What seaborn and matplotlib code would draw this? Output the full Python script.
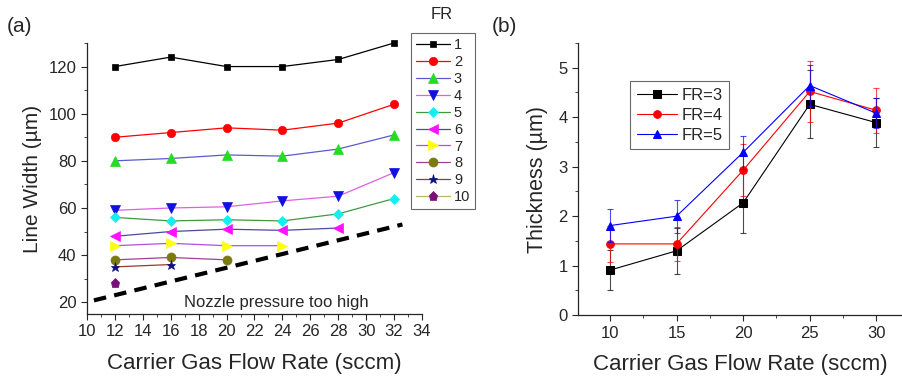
import numpy as np
import seaborn as sns
import matplotlib.pyplot as plt
from matplotlib.ticker import MultipleLocator

# Panel (a): line width vs carrier gas flow rate, one series per FR
flow_a = [12, 16, 20, 24, 28, 32]
fr_labels = ['1', '2', '3', '4', '5', '6', '7', '8', '9', '10']
width_fr1 = [120, 124, 120, 120, 123, 130]
width_fr2 = [90, 92, 94, 93, 96, 104]
width_fr3 = [80, 81, 82.5, 82, 85, 91]
width_fr4 = [59, 60, 60.5, 63, 65, 75]
width_fr5 = [56, 54.5, 55, 54.5, 57.5, 64]
width_fr6 = [48, 50, 51, 50.5, 51.5]
width_fr7 = [44, 45, 44, 44]
width_fr8 = [38, 39, 38]
width_fr9 = [35, 36]
width_fr10 = [28]
widths = [width_fr1, width_fr2, width_fr3, width_fr4, width_fr5,
          width_fr6, width_fr7, width_fr8, width_fr9, width_fr10]

# limit line ("nozzle pressure too high")
boundary_x = [10.5, 32.6]
boundary_y = [20.8, 53]

# Panel (b): thickness with error bars
flow_b = [10, 15, 20, 25, 30]
thick_fr3 = [0.91, 1.30, 2.27, 4.26, 3.89]
err_fr3 = [0.40, 0.46, 0.60, 0.69, 0.50]
thick_fr4 = [1.44, 1.44, 2.93, 4.52, 4.14]
err_fr4 = [0.36, 0.35, 0.53, 0.62, 0.45]
thick_fr5 = [1.81, 2.00, 3.29, 4.64, 4.08]
err_fr5 = [0.33, 0.33, 0.33, 0.42, 0.30]

sns.set_style('ticks')
plt.rcParams['font.family'] = ['Liberation Sans', 'DejaVu Sans']
plt.rcParams['xtick.labelsize'] = 12
plt.rcParams['ytick.labelsize'] = 12

fig = plt.figure(figsize=(9.03, 3.77), dpi=100)
ax1 = fig.add_axes([0.0963, 0.167, 0.371, 0.719])
ax2 = fig.add_axes([0.640, 0.164, 0.360, 0.722])

line_colors = ['black', 'red', '#5a5ad2', '#e060e0', '#3f9a3f',
               '#4a4aa0', '#b050e0', '#a04090', '#a03535', '#b8b860']
marker_colors = ['black', 'red', '#22dd22', '#1010e0', '#10f0f0',
                 '#ff10ff', '#ffff10', '#7a7a10', '#101080', '#7a107a']
markers = ['s', 'o', '^', 'v', 'D', '<', '>', 'o', '*', 'p']
msizes = [5, 6, 6.5, 6.5, 5.5, 6.5, 6.5, 6.5, 6.5, 6.5]

for lab, y, lc, mc, m, ms in zip(fr_labels, widths, line_colors, marker_colors, markers, msizes):
    sns.lineplot(x=flow_a[:len(y)], y=y, ax=ax1, color=lc, marker=m,
                 markersize=ms, markerfacecolor=mc, markeredgecolor=mc,
                 markeredgewidth=0.5, linewidth=0.9, label=lab, clip_on=False)

sns.lineplot(x=boundary_x, y=boundary_y, ax=ax1, color='black',
             linestyle=(0, (3, 2)), linewidth=3, legend=False)
ax1.text(23.6, 20, 'Nozzle pressure too high', ha='center', va='center', fontsize=12)

ax1.set_xlim(10, 34)
ax1.set_ylim(15, 130)
ax1.xaxis.set_major_locator(MultipleLocator(2))
ax1.xaxis.set_minor_locator(MultipleLocator(1))
ax1.yaxis.set_major_locator(MultipleLocator(20))
ax1.yaxis.set_minor_locator(MultipleLocator(10))
ax1.set_yticks([20, 40, 60, 80, 100, 120])
ax1.set_xlabel('Carrier Gas Flow Rate (sccm)', fontsize=16, labelpad=10)
ax1.set_ylabel('Line Width (µm)', fontsize=15, labelpad=5)
sns.despine(ax=ax1)

leg1 = ax1.legend(loc='upper left', bbox_to_anchor=(0.967, 1.037), fontsize=10.5,
                  handlelength=2.3, handletextpad=0.3, labelspacing=0.2,
                  borderpad=0.35, frameon=True, fancybox=False, borderaxespad=0)
leg1.get_frame().set_edgecolor('#444444')
leg1.get_frame().set_linewidth(0.8)
fig.text(0.489, 0.962, 'FR', ha='center', va='center', fontsize=12)

# panel (b)
series_b = [(thick_fr3, err_fr3, 'black', 's', 'FR=3'),
            (thick_fr4, err_fr4, 'red', 'o', 'FR=4'),
            (thick_fr5, err_fr5, 'blue', '^', 'FR=5')]
for y, e, c, m, lab in series_b:
    ax2.errorbar(flow_b, y, yerr=e, fmt='none', ecolor=c, elinewidth=0.8,
                 capsize=2.5, capthick=0.8, alpha=0.7)
    sns.lineplot(x=flow_b, y=y, ax=ax2, color=c, marker=m, markersize=5.5,
                 markerfacecolor=c, markeredgecolor=c, linewidth=0.8, label=lab)

ax2.set_xlim(7.6, 32)
ax2.set_ylim(0, 5.5)
ax2.xaxis.set_major_locator(MultipleLocator(5))
ax2.xaxis.set_minor_locator(MultipleLocator(2.5))
ax2.yaxis.set_major_locator(MultipleLocator(1))
ax2.yaxis.set_minor_locator(MultipleLocator(0.5))
ax2.set_xlabel('Carrier Gas Flow Rate (sccm)', fontsize=16, labelpad=10)
ax2.set_ylabel('Thickness (µm)', fontsize=15.5, labelpad=7)
sns.despine(ax=ax2)

leg2 = ax2.legend(loc='upper left', bbox_to_anchor=(0.16, 0.86), fontsize=12,
                  handlelength=2.4, handletextpad=0.3, labelspacing=0.3,
                  borderpad=0.4, frameon=True, fancybox=False, borderaxespad=0)
leg2.get_frame().set_edgecolor('#444444')
leg2.get_frame().set_linewidth(0.8)

for ax in (ax1, ax2):
    ax.tick_params(which='major', length=4, width=0.8, direction='out')
    ax.tick_params(which='minor', length=2.5, width=0.6, direction='out')
    for s in ax.spines.values():
        s.set_linewidth(0.9)

fig.text(0.008, 0.93, '(a)', fontsize=15, ha='left', va='center')
fig.text(0.545, 0.93, '(b)', fontsize=15, ha='left', va='center')

fig.savefig('out.png', dpi=100)
